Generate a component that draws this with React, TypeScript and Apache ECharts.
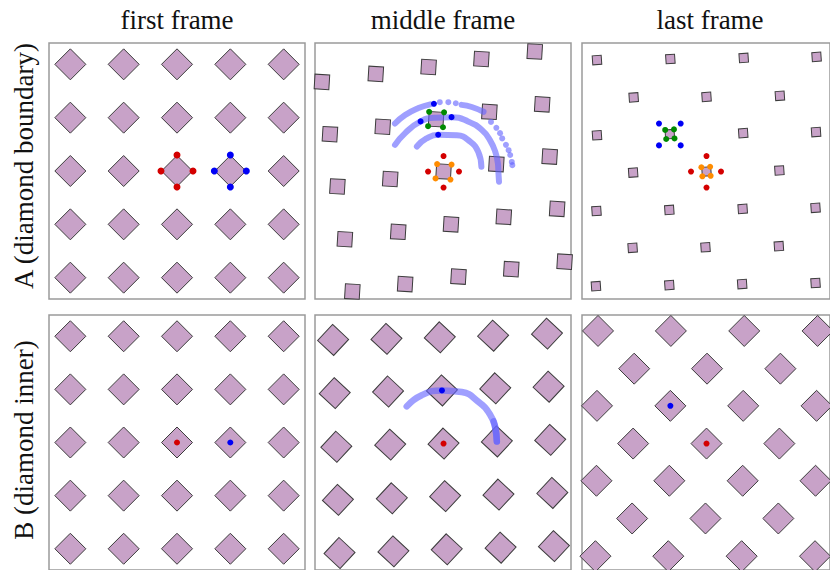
import React, { useEffect, useRef } from 'react';
import * as echarts from 'echarts';

// ---------- text ----------
const COLUMN_TITLES = ['first frame', 'middle frame', 'last frame'];
const ROW_LABELS = ['A (diamond boundary)', 'B (diamond inner)'];

// ---------- first frame grid (rows A and B) ----------
const FIRST_COLS = [-2, -1, 0, 1, 2];
const FIRST_ROWS = [2, 1, 0, -1, -2];

// ---------- A, middle frame: squares ----------
const A_MID_SQUARES: [number, number][] = [
  [-2.27, 1.67], [-1.26, 1.82], [-0.27, 1.95], [0.72, 2.1], [1.72, 2.24],
  [-2.12, 0.69], [-1.13, 0.83], [-0.13, 0.97], [0.87, 1.11], [1.86, 1.25],
  [-1.98, -0.29], [-0.99, -0.15], [0.01, -0.01], [1.0, 0.13], [2.0, 0.27],
  [-1.84, -1.28], [-0.84, -1.14], [0.15, -1.0], [1.14, -0.86], [2.14, -0.71],
  [-1.7, -2.26], [-0.71, -2.12], [0.29, -1.98], [1.28, -1.84], [2.28, -1.7],
];

// ---------- A, last frame: squares ----------
const A_LAST_SQUARES: [number, number][] = [
  [-2.11, 2.08], [-0.69, 2.1], [0.73, 2.12], [2.14, 2.14],
  [-1.4, 1.38], [0.01, 1.39], [1.43, 1.41],
  [-2.11, 0.67], [-0.7, 0.69], [0.72, 0.71], [2.13, 0.73],
  [-1.41, -0.03], [0.01, -0.01], [1.42, 0.01],
  [-2.12, -0.75], [-0.71, -0.73], [0.71, -0.71], [2.12, -0.69],
  [-1.42, -1.44], [-0.01, -1.43], [1.41, -1.41],
  [-2.13, -2.16], [-0.71, -2.14], [0.7, -2.12], [2.12, -2.1],
];

// ---------- B, middle frame: diamonds ----------
const B_MID_DIAMONDS: [number, number][] = [
  [-2.06, 1.93], [-1.06, 1.95], [-0.06, 1.98], [0.94, 2.01], [1.95, 2.05],
  [-2.03, 0.93], [-1.03, 0.96], [-0.02, 0.98], [0.98, 1.02], [1.98, 1.05],
  [-2.0, -0.08], [-0.99, -0.04], [0.01, -0.02], [1.01, 0.02], [2.01, 0.05],
  [-1.97, -1.08], [-0.96, -1.05], [0.04, -1.01], [1.04, -0.98], [2.05, -0.95],
  [-1.94, -2.08], [-0.93, -2.05], [0.07, -2.01], [1.08, -1.98], [2.08, -1.95],
];

// ---------- B, last frame: diamonds ----------
const B_LAST_DIAMONDS: [number, number][] = [
  [-2.09, 2.1], [-0.68, 2.1], [0.74, 2.1], [2.16, 2.1],
  [-1.39, 1.39], [0.02, 1.39], [1.44, 1.39],
  [-2.11, 0.69], [-0.69, 0.69], [0.72, 0.69], [2.14, 0.69],
  [-1.41, -0.02], [0.01, -0.02], [1.42, -0.02],
  [-2.12, -0.72], [-0.71, -0.72], [0.71, -0.72], [2.12, -0.72],
  [-1.43, -1.43], [-0.01, -1.43], [1.4, -1.43],
  [-2.14, -2.14], [-0.73, -2.14], [0.69, -2.14], [2.11, -2.14],
];

// ---------- tracked points ----------
const A_FIRST_RED: [number, number][] = [[0, 0.3], [-0.3, 0], [0.3, 0], [0, -0.3]];
const A_FIRST_BLUE: [number, number][] = [[1, 0.3], [0.7, 0], [1.3, 0], [1, -0.3]];

const A_MID_GREEN: [number, number][] = [[-0.26, 1.11], [0.02, 1.1], [-0.28, 0.84], [0, 0.82]];
const A_MID_BLUE: [number, number][] = [[-0.17, 1.26], [-0.42, 0.93], [0.16, 1.01], [-0.09, 0.68]];
const A_MID_RED: [number, number][] = [[0.01, 0.28], [-0.28, -0.01], [0.3, -0.01], [0.01, -0.31]];
const A_MID_ORANGE: [number, number][] = [[-0.11, 0.13], [0.16, 0.12], [-0.14, -0.14], [0.14, -0.16]];

const A_LAST_GREEN: [number, number][] = [[-0.79, 0.77], [-0.62, 0.78], [-0.77, 0.6], [-0.61, 0.61]];
const A_LAST_BLUE: [number, number][] = [[-0.91, 0.89], [-0.49, 0.89], [-0.91, 0.48], [-0.49, 0.48]];
const A_LAST_RED: [number, number][] = [[0.01, 0.28], [-0.29, -0.01], [0.29, -0.01], [0.01, -0.31]];
const A_LAST_ORANGE: [number, number][] = [[-0.09, 0.07], [0.08, 0.08], [-0.07, -0.1], [0.09, -0.09]];

const B_FIRST_RED: [number, number][] = [[0, 0]];
const B_FIRST_BLUE: [number, number][] = [[1, 0]];
const B_MID_RED: [number, number][] = [[0.01, -0.02]];
const B_MID_BLUE: [number, number][] = [[-0.02, 0.98]];
const B_LAST_RED: [number, number][] = [[0.01, -0.02]];
const B_LAST_BLUE: [number, number][] = [[-0.69, 0.69]];

// ---------- trails (middle frame) ----------
const A_TRAIL_OUTER_1: [number, number][] = [[-0.9, 0.89], [-0.71, 1.05], [-0.46, 1.18], [-0.24, 1.25]];
const A_TRAIL_OUTER_2: [number, number][] = [[0.35, 1.24], [0.54, 1.2], [0.76, 1.11]];
const A_TRAIL_OUTER_DOTS: [number, number][] = [
  [-0.06, 1.29], [0.1, 1.29], [0.24, 1.27], [0.9, 0.92], [1.0, 0.81], [1.07, 0.71], [1.11, 0.61],
  [1.18, 0.49], [1.23, 0.39], [1.26, 0.3], [1.29, 0.17], [1.3, 0.11],
];
const A_TRAIL_MIDDLE: [number, number][] = [
  [-0.9, 0.49], [-0.71, 0.71], [-0.42, 0.93], [-0.15, 1.0], [0.16, 1.01], [0.47, 0.93],
  [0.73, 0.77], [0.88, 0.58], [0.98, 0.36], [1.03, 0.14], [1.04, -0.04], [1.05, -0.2],
];
const A_TRAIL_INNER: [number, number][] = [
  [-0.49, 0.46], [-0.31, 0.61], [-0.09, 0.68], [0.26, 0.67], [0.51, 0.55], [0.66, 0.36], [0.72, 0.08],
];
const B_TRAIL: [number, number][] = [
  [-0.68, 0.68], [-0.4, 0.89], [-0.02, 0.98], [0.35, 0.95], [0.66, 0.77], [0.88, 0.53], [0.98, 0.28], [1.01, 0.02],
];
const B_TRAIL_DENSE: [number, number][] = [[0.95, 0.4], [0.98, 0.28], [1.01, 0.02]];

// ---------- styling ----------
const FILL = '#c8a2c8';
const EDGE = '#3c3c3c';
const TRAIL = 'rgba(100,100,255,0.62)';
const RED = '#d40000';
const BLUE = '#0000f5';
const GREEN = '#008a00';
const ORANGE = '#ff8c00';
const SERIF = '"Liberation Serif", "Times New Roman", serif';

const PANEL = 256;
const COL_X = [49, 315, 582];
const ROW_Y = [43, 315];
const HALF = 2.4;

function cross(cols: number[], rows: number[]): [number, number][] {
  const out: [number, number][] = [];
  rows.forEach((r) => cols.forEach((c) => out.push([c, r])));
  return out;
}

function shapes(g: number, data: [number, number][], symbol: string, size: number, rotate: number) {
  return {
    type: 'scatter', xAxisIndex: g, yAxisIndex: g, data, symbol, symbolSize: size, symbolRotate: rotate,
    itemStyle: { color: FILL, borderColor: EDGE, borderWidth: 1, opacity: 1 }, z: 2, silent: true, clip: true,
  };
}
function dots(g: number, data: [number, number][], color: string, size: number) {
  return {
    type: 'scatter', xAxisIndex: g, yAxisIndex: g, data, symbol: 'circle', symbolSize: size,
    itemStyle: { color, opacity: 1 }, z: 5, silent: true, clip: true,
  };
}
function trail(g: number, data: [number, number][], width: number) {
  return {
    type: 'line', xAxisIndex: g, yAxisIndex: g, data, smooth: true, showSymbol: false, symbol: 'none',
    lineStyle: { color: TRAIL, width, cap: 'round', join: 'round', opacity: 1 }, z: 3, silent: true, clip: true,
  };
}

export default function App() {
  const ref = useRef<HTMLDivElement>(null);
  useEffect(() => {
    if (!ref.current) return;
    const chart = echarts.init(ref.current, undefined, { renderer: 'svg' });
    const grids: any[] = [];
    const xAxes: any[] = [];
    const yAxes: any[] = [];
    ROW_Y.forEach((top) => {
      COL_X.forEach((left) => {
        const i = grids.length;
        grids.push({ left, top, width: PANEL, height: PANEL, show: true, borderColor: '#9a9a9a', borderWidth: 1.5, backgroundColor: '#fff', containLabel: false });
        xAxes.push({ gridIndex: i, type: 'value', min: -HALF, max: HALF, show: false });
        yAxes.push({ gridIndex: i, type: 'value', min: -HALF, max: HALF, show: false });
      });
    });
    const firstGrid = cross(FIRST_COLS, FIRST_ROWS);
    const series: any[] = [
      // A first
      shapes(0, firstGrid, 'diamond', 31, 0),
      dots(0, A_FIRST_RED, RED, 7),
      dots(0, A_FIRST_BLUE, BLUE, 7),
      // A middle
      shapes(1, A_MID_SQUARES, 'rect', 14.7, -3.5),
      trail(1, A_TRAIL_OUTER_1, 6),
      trail(1, A_TRAIL_OUTER_2, 6),
      { ...dots(1, A_TRAIL_OUTER_DOTS, TRAIL, 6), z: 3 },
      trail(1, A_TRAIL_MIDDLE, 6),
      trail(1, A_TRAIL_INNER, 6),
      dots(1, A_MID_GREEN, GREEN, 6),
      dots(1, A_MID_BLUE, BLUE, 6),
      dots(1, A_MID_ORANGE, ORANGE, 6),
      dots(1, A_MID_RED, RED, 6),
      // A last
      shapes(2, A_LAST_SQUARES, 'rect', 9, 4),
      dots(2, A_LAST_GREEN, GREEN, 6),
      dots(2, A_LAST_BLUE, BLUE, 6),
      dots(2, A_LAST_ORANGE, ORANGE, 6),
      dots(2, A_LAST_RED, RED, 6),
      // B first
      shapes(3, firstGrid, 'diamond', 31, 0),
      dots(3, B_FIRST_RED, RED, 6),
      dots(3, B_FIRST_BLUE, BLUE, 6),
      // B middle
      shapes(4, B_MID_DIAMONDS, 'diamond', 31, 2),
      trail(4, B_TRAIL, 6.5),
      trail(4, B_TRAIL_DENSE, 6.5),
      dots(4, B_MID_RED, RED, 6),
      dots(4, B_MID_BLUE, BLUE, 6),
      // B last
      shapes(5, B_LAST_DIAMONDS, 'diamond', 31, 0),
      dots(5, B_LAST_RED, RED, 6),
      dots(5, B_LAST_BLUE, BLUE, 6),
    ];
    const graphic: any[] = [];
    COLUMN_TITLES.forEach((t, i) => {
      graphic.push({
        type: 'text', x: COL_X[i] + PANEL / 2, y: 20, silent: true,
        style: { text: t, font: `27px ${SERIF}`, fill: '#111', textAlign: 'center', textVerticalAlign: 'middle' },
      });
    });
    const rowCenters = [166, 440];
    ROW_LABELS.forEach((t, i) => {
      graphic.push({
        type: 'text', x: 24, y: rowCenters[i], rotation: Math.PI / 2, silent: true,
        style: { text: t, font: `27px ${SERIF}`, fill: '#111', textAlign: 'center', textVerticalAlign: 'middle' },
      });
    });
    chart.setOption({
      animation: false,
      backgroundColor: '#fff',
      grid: grids,
      xAxis: xAxes,
      yAxis: yAxes,
      series,
      graphic,
    });
    return () => chart.dispose();
  }, []);
  return <div ref={ref} style={{ position: 'absolute', left: 0, top: 0, width: 830, height: 570 }} />;
}
